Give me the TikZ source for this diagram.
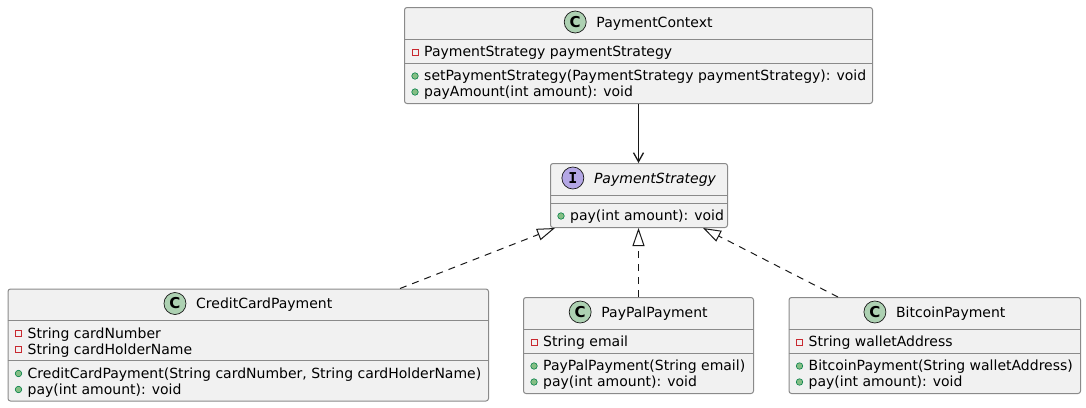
\documentclass[tikz,border=0pt]{standalone}
\usepackage{fontspec}
\setmainfont{DejaVu Sans}
\newfontfamily\badgefont{DejaVu Sans}
\newfontfamily\badgemono{DejaVu Sans Mono}
\usetikzlibrary{arrows.meta,calc}
\definecolor{boxfill}{HTML}{F1F1F1}
\definecolor{boxline}{HTML}{8A8A8A}
\definecolor{linkcol}{HTML}{181818}
\definecolor{cfill}{HTML}{ADD1B2}
\definecolor{ifill}{HTML}{B4A7E5}
\definecolor{privcol}{HTML}{C82930}
\definecolor{pubfill}{HTML}{84BE84}
\definecolor{publine}{HTML}{038048}
\tikzset{
  umlbox/.style={draw=boxline, fill=boxfill, line width=1pt, rounded corners=2.5pt, inner sep=0pt, anchor=north west},
  sepline/.style={draw=boxline, line width=1pt},
  hdr/.style={inner sep=0pt, anchor=base, font=\fontsize{14pt}{16pt}\selectfont, text height=10.5pt, text depth=3pt},
  mem/.style={inner sep=0pt, anchor=base west, font=\fontsize{14pt}{16pt}\selectfont},
  badge/.style={circle, draw=linkcol, line width=0.7pt, minimum size=22pt, inner sep=0pt},
  cbadge/.style={badge, fill=cfill, font=\badgefont\bfseries\fontsize{15pt}{15pt}\selectfont},
  ibadge/.style={badge, fill=ifill, font=\badgemono\bfseries\fontsize{15pt}{15pt}\selectfont},
  privmark/.style={rectangle, draw=privcol, line width=0.9pt, minimum size=6pt, inner sep=0pt},
  pubmark/.style={circle, draw=publine, fill=pubfill, line width=0.6pt, minimum size=6.5pt, inner sep=0pt},
  assoc/.style={draw=linkcol, line width=1pt, -{Straight Barb[length=9pt,width=10pt,line width=1.3pt]}},
  realize/.style={draw=linkcol, line width=1pt, dash pattern=on 7pt off 6pt, -{Triangle[open,length=18pt,width=12pt]}}
}
\begin{document}
\begin{tikzpicture}[x=1pt,y=-1pt]
\useasboundingbox (0,0) rectangle (1086,407);

% ---------- PaymentContext ----------
\node[umlbox, minimum width=468pt, minimum height=96pt] (pc) at (404,7) {};
\draw[sepline] ($(pc.north west)+(0,-32pt)$) -- ($(pc.north east)+(0,-32pt)$);
\draw[sepline] ($(pc.north west)+(0,-56pt)$) -- ($(pc.north east)+(0,-56pt)$);
\node[hdr] (pcn) at ($(pc.north)+(0,-20pt)$) {\hspace{32pt}PaymentContext};
\node[cbadge] (pcb) at ($(pcn.base west)+(11pt,5pt)$) {C};
\node[mem] (pca1) at ($(pc.north west)+(20pt,-49.5pt)$) {PaymentStrategy paymentStrategy};
\node[privmark] (pcam1) at ($(pc.north west)+(11pt,-45pt)$) {};
\node[mem] (pcm1) at ($(pc.north west)+(20pt,-73.5pt)$) {setPaymentStrategy(PaymentStrategy paymentStrategy): void};
\node[pubmark] (pcmm1) at ($(pc.north west)+(11pt,-69pt)$) {};
\node[mem] (pcm2) at ($(pc.north west)+(20pt,-89.5pt)$) {payAmount(int amount): void};
\node[pubmark] (pcmm2) at ($(pc.north west)+(11pt,-85pt)$) {};

% ---------- PaymentStrategy ----------
\node[umlbox, minimum width=177pt, minimum height=64pt] (ps) at (550,163) {};
\draw[sepline] ($(ps.north west)+(0,-32pt)$) -- ($(ps.north east)+(0,-32pt)$);
\draw[sepline] ($(ps.north west)+(0,-40pt)$) -- ($(ps.north east)+(0,-40pt)$);
\node[hdr] (psn) at ($(ps.north)+(0,-20pt)$) {\hspace{32pt}\itshape PaymentStrategy};
\node[ibadge] (psb) at ($(psn.base west)+(11pt,5pt)$) {I};
\node[mem] (psm1) at ($(ps.north west)+(20pt,-57.5pt)$) {pay(int amount): void};
\node[pubmark] (psmm1) at ($(ps.north west)+(11pt,-53pt)$) {};

% ---------- CreditCardPayment ----------
\node[umlbox, minimum width=480.5pt, minimum height=112pt] (cc) at (7.5,288.5) {};
\draw[sepline] ($(cc.north west)+(0,-32pt)$) -- ($(cc.north east)+(0,-32pt)$);
\draw[sepline] ($(cc.north west)+(0,-72pt)$) -- ($(cc.north east)+(0,-72pt)$);
\node[hdr] (ccn) at ($(cc.north)+(0,-20pt)$) {\hspace{32pt}CreditCardPayment};
\node[cbadge] (ccb) at ($(ccn.base west)+(11pt,5pt)$) {C};
\node[mem] (cca1) at ($(cc.north west)+(20pt,-49.5pt)$) {String cardNumber};
\node[privmark] (ccam1) at ($(cc.north west)+(11pt,-45pt)$) {};
\node[mem] (cca2) at ($(cc.north west)+(20pt,-65.5pt)$) {String cardHolderName};
\node[privmark] (ccam2) at ($(cc.north west)+(11pt,-61pt)$) {};
\node[mem] (ccm1) at ($(cc.north west)+(20pt,-89.5pt)$) {CreditCardPayment(String cardNumber, String cardHolderName)};
\node[pubmark] (ccmm1) at ($(cc.north west)+(11pt,-85pt)$) {};
\node[mem] (ccm2) at ($(cc.north west)+(20pt,-105.5pt)$) {pay(int amount): void};
\node[pubmark] (ccmm2) at ($(cc.north west)+(11pt,-101pt)$) {};

% ---------- PayPalPayment ----------
\node[umlbox, minimum width=230pt, minimum height=96pt] (pp) at (523,297) {};
\draw[sepline] ($(pp.north west)+(0,-32pt)$) -- ($(pp.north east)+(0,-32pt)$);
\draw[sepline] ($(pp.north west)+(0,-56pt)$) -- ($(pp.north east)+(0,-56pt)$);
\node[hdr] (ppn) at ($(pp.north)+(0,-20pt)$) {\hspace{32pt}PayPalPayment};
\node[cbadge] (ppb) at ($(ppn.base west)+(11pt,5pt)$) {C};
\node[mem] (ppa1) at ($(pp.north west)+(20pt,-49.5pt)$) {String email};
\node[privmark] (ppam1) at ($(pp.north west)+(11pt,-45pt)$) {};
\node[mem] (ppm1) at ($(pp.north west)+(20pt,-73.5pt)$) {PayPalPayment(String email)};
\node[pubmark] (ppmm1) at ($(pp.north west)+(11pt,-69pt)$) {};
\node[mem] (ppm2) at ($(pp.north west)+(20pt,-89.5pt)$) {pay(int amount): void};
\node[pubmark] (ppmm2) at ($(pp.north west)+(11pt,-85pt)$) {};

% ---------- BitcoinPayment ----------
\node[umlbox, minimum width=291.5pt, minimum height=96pt] (bc) at (788.5,297) {};
\draw[sepline] ($(bc.north west)+(0,-32pt)$) -- ($(bc.north east)+(0,-32pt)$);
\draw[sepline] ($(bc.north west)+(0,-56pt)$) -- ($(bc.north east)+(0,-56pt)$);
\node[hdr] (bcn) at ($(bc.north)+(0,-20pt)$) {\hspace{32pt}BitcoinPayment};
\node[cbadge] (bcb) at ($(bcn.base west)+(11pt,5pt)$) {C};
\node[mem] (bca1) at ($(bc.north west)+(20pt,-49.5pt)$) {String walletAddress};
\node[privmark] (bcam1) at ($(bc.north west)+(11pt,-45pt)$) {};
\node[mem] (bcm1) at ($(bc.north west)+(20pt,-73.5pt)$) {BitcoinPayment(String walletAddress)};
\node[pubmark] (bcmm1) at ($(bc.north west)+(11pt,-69pt)$) {};
\node[mem] (bcm2) at ($(bc.north west)+(20pt,-89.5pt)$) {pay(int amount): void};
\node[pubmark] (bcmm2) at ($(bc.north west)+(11pt,-85pt)$) {};

% ---------- connectors ----------
\draw[assoc] (pc.south) -- (pc.south |- ps.north);
\coordinate (ccTop) at ($(cc.north west)+(392.5pt,0)$);
\coordinate (psLeft) at ($(ps.south west)+(5pt,0)$);
\coordinate (bcTop) at ($(bc.north west)+(49.5pt,0)$);
\coordinate (psRight) at ($(ps.south east)+(-25pt,0)$);
\draw[realize] (ccTop) -- (psLeft);
\draw[realize] (pp.north) -- (pp.north |- ps.south);
\draw[realize] (bcTop) -- (psRight);
\end{tikzpicture}
\end{document}
